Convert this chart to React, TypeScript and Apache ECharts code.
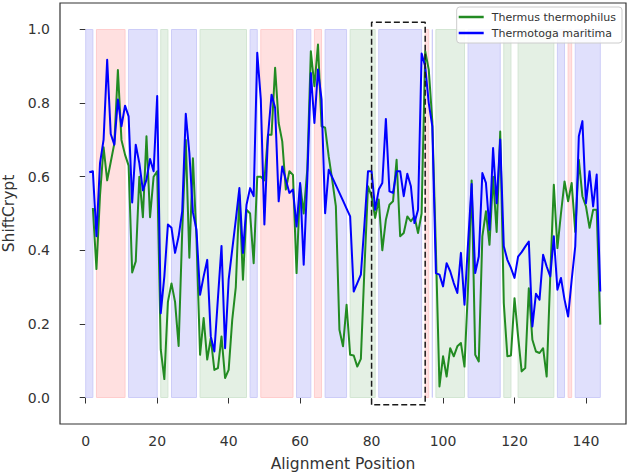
import React, { useEffect, useRef } from "react";
import * as echarts from "echarts";

// Alignment positions 0..144
const positions: number[] = Array.from({ length: 145 }, (_, i) => i);

const thermusValues: (number | null)[] = [
  null, null, 0.515, 0.349, 0.55, 0.68, 0.59, 0.64, 0.69, 0.89,
  0.70, 0.66, 0.63, 0.34, 0.37, 0.60, 0.49, 0.71, 0.49, 0.60,
  0.615, 0.13, 0.05, 0.26, 0.31, 0.26, 0.14, 0.45, 0.70, 0.38,
  0.65, 0.43, 0.116, 0.216, 0.103, 0.161, 0.075, 0.080, 0.166, 0.053,
  0.075, 0.211, 0.30, 0.55, 0.32, 0.51, 0.50, 0.365, 0.60, 0.60,
  0.59, 0.714, 0.714, 0.896, 0.746, 0.696, 0.565, 0.615, 0.605, 0.338,
  0.58, 0.50, 0.62, 0.941, 0.846, 0.959, 0.737, 0.733, 0.655, 0.59,
  0.52, 0.184, 0.139, 0.252, 0.116, 0.114, 0.084, 0.105, 0.35, 0.574,
  0.547, 0.488, 0.538, 0.40, 0.483, 0.524, 0.533, 0.646, 0.438, 0.447,
  0.492, 0.479, 0.492, 0.447, 0.50, 0.941, 0.891, 0.75, 0.40, 0.03,
  0.112, 0.057, 0.134, 0.112, 0.139, 0.148, 0.084, 0.30, 0.59, 0.116,
  0.098, 0.438, 0.506, 0.415, 0.60, 0.45, 0.723, 0.256, 0.112, 0.114,
  0.27, 0.166, 0.071, 0.080, 0.297, 0.157, 0.125, 0.121, 0.134, 0.057,
  0.33, 0.578, 0.406, 0.50, 0.587, 0.533, 0.583, 0.45, 0.646, 0.547,
  0.519, 0.461, 0.51, 0.51, 0.198,
];

const thermotogaValues: (number | null)[] = [
  null, 0.612, 0.615, 0.438, 0.637, 0.701, 0.918, 0.716, 0.687, 0.810,
  0.737, 0.793, 0.764, 0.530, 0.687, 0.637, 0.563, 0.592, 0.648, 0.615,
  0.819, 0.229, 0.329, 0.470, 0.461, 0.393, 0.438, 0.506, 0.771, 0.665,
  0.503, 0.456, 0.279, 0.329, 0.374, 0.166, 0.125, 0.27, 0.412, 0.134,
  0.320, 0.402, 0.483, 0.569, 0.393, 0.524, 0.569, 0.547, 0.937, 0.810,
  0.470, 0.710, 0.823, 0.787, 0.533, 0.628, 0.592, 0.556, 0.565, 0.465,
  0.583, 0.361, 0.592, 0.882, 0.746, 0.891, 0.810, 0.501, 0.619, 0.598,
  0.577, 0.556, 0.535, 0.513, 0.492, 0.288, 0.311, 0.334, 0.47, 0.615,
  0.615, 0.510, 0.565, 0.583, 0.757, 0.560, 0.556, 0.615, 0.615, 0.547,
  0.608, 0.574, 0.474, 0.510, 0.935, 0.900, 0.80, 0.737, 0.338, 0.334,
  0.302, 0.365, 0.343, 0.311, 0.284, 0.393, 0.252, 0.42, 0.58, 0.338,
  0.383, 0.610, 0.583, 0.456, 0.678, 0.528, 0.701, 0.411, 0.374, 0.352,
  0.325, 0.383, 0.395, 0.41, 0.424, 0.193, 0.282, 0.266, 0.388, 0.356,
  0.329, 0.438, 0.293, 0.325, 0.266, 0.220, 0.32, 0.411, 0.710, 0.751,
  0.528, 0.615, 0.519, 0.606, 0.288,
];

// Shaded regions: [start, end, kind] ; kind 0 = blue, 1 = red, 2 = green
const spanStarts: number[] = [0, 3, 12, 21, 24, 32, 46, 49, 59, 64, 67, 74, 82, 95, 97, 98, 107, 117, 121, 132, 135, 137];
const spanEnds: number[] = [2, 11, 20, 23, 31, 45, 48, 58, 63, 66, 73, 81, 94, 96, 97, 106, 116, 119, 131, 134, 136, 144];
const spanKinds: number[] = [0, 1, 0, 2, 0, 2, 0, 1, 0, 1, 0, 2, 0, 1, 0, 2, 0, 2, 2, 0, 1, 0];

// Dashed highlight box (data coordinates)
const boxX: number[] = [80, 80, 95, 95, 80];
const boxY: number[] = [-0.02, 1.02, 1.02, -0.02, -0.02];

const xTicks: number[] = [0, 20, 40, 60, 80, 100, 120, 140];
const yTicks: number[] = [0, 0.2, 0.4, 0.6, 0.8, 1.0];

const seriesNames = ["Thermus thermophilus", "Thermotoga maritima"];
const lineColors = ["#228B22", "#0000FF"];
const spanFill = ["#e0e0fc", "#ffe0e0", "#e4f0e4"];
const spanStroke = ["#cdcdf8", "#ffcdcd", "#d3e6d3"];

const FONT = "DejaVu Sans";
const TEXT = "#333333";

function toPairs(vals: (number | null)[]) {
  const out: number[][] = [];
  vals.forEach((v, i) => {
    if (v !== null) out.push([positions[i], v]);
  });
  return out;
}

export default function App() {
  const ref = useRef<HTMLDivElement>(null);
  useEffect(() => {
    if (!ref.current) return;
    const chart = echarts.init(ref.current, null, { renderer: "svg" });
    const spanData = spanStarts.map((s, i) => [s, spanEnds[i], 0, 1, spanKinds[i]]);
    const option: any = {
      animation: false,
      backgroundColor: "#ffffff",
      grid: {
        left: 60,
        right: 4,
        top: 3,
        bottom: 52,
        containLabel: false,
        outerBoundsMode: "none",
        show: true,
        borderColor: "#333333",
        borderWidth: 1.2,
        backgroundColor: "#ffffff",
      },
      legend: {
        data: seriesNames,
        orient: "vertical",
        right: 8,
        top: 7,
        icon: "rect",
        itemWidth: 25,
        itemHeight: 2.5,
        itemGap: 2,
        padding: [3, 6, 3, 2],
        backgroundColor: "rgba(255,255,255,0.85)",
        borderColor: "#cccccc",
        borderWidth: 1,
        borderRadius: 3,
        textStyle: {
          fontFamily: FONT,
          fontSize: 11,
          color: TEXT,
          lineHeight: 14,
          padding: [0, 0, 0, 3],
        },
      },
      xAxis: {
        type: "value",
        min: -7.2,
        max: 151.2,
        name: "Alignment Position",
        nameLocation: "middle",
        nameGap: 32,
        nameTextStyle: { fontFamily: FONT, fontSize: 15.5, color: TEXT },
        axisLine: { show: false },
        splitLine: { show: false },
        axisTick: {
          show: true,
          length: 6,
          inside: false,
          customValues: xTicks,
          lineStyle: { color: "#333333", width: 1 },
        },
        axisLabel: {
          customValues: xTicks,
          margin: 10,
          fontFamily: FONT,
          fontSize: 14,
          color: TEXT,
          formatter: (v: number) => String(Math.round(v)),
        },
      },
      yAxis: {
        type: "value",
        min: -0.072,
        max: 1.072,
        name: "ShiftCrypt",
        nameLocation: "middle",
        nameGap: 42,
        nameTextStyle: { fontFamily: FONT, fontSize: 15.5, color: TEXT },
        axisLine: { show: false },
        splitLine: { show: false },
        axisTick: {
          show: true,
          length: 6,
          customValues: yTicks,
          lineStyle: { color: "#333333", width: 1 },
        },
        axisLabel: {
          customValues: yTicks,
          margin: 10,
          fontFamily: FONT,
          fontSize: 14,
          color: TEXT,
          formatter: (v: number) => v.toFixed(1),
        },
      },
      series: [
        {
          type: "custom",
          name: "spans",
          z: 1,
          silent: true,
          encode: { x: [0, 1], y: [2, 3] },
          data: spanData,
          renderItem: (params: any, api: any) => {
            const s = api.value(0);
            const e = api.value(1);
            const k = api.value(4);
            const p0 = api.coord([s, 1]);
            const p1 = api.coord([e, 0]);
            return {
              type: "rect",
              shape: { x: p0[0], y: p0[1], width: p1[0] - p0[0], height: p1[1] - p0[1] },
              style: { fill: spanFill[k], stroke: spanStroke[k], lineWidth: 1 },
            };
          },
        },
        {
          type: "line",
          name: seriesNames[0],
          z: 3,
          data: toPairs(thermusValues),
          symbol: "none",
          itemStyle: { color: lineColors[0] },
          lineStyle: { color: lineColors[0], width: 2, join: "round" },
        },
        {
          type: "line",
          name: seriesNames[1],
          z: 4,
          data: toPairs(thermotogaValues),
          symbol: "none",
          itemStyle: { color: lineColors[1] },
          lineStyle: { color: lineColors[1], width: 2, join: "round" },
        },
        {
          type: "line",
          name: "box",
          z: 5,
          silent: true,
          data: boxX.map((x, i) => [x, boxY[i]]),
          symbol: "none",
          lineStyle: { color: "#1a1a1a", width: 1.5, type: [6, 3] },
        },
      ],
    };
    chart.setOption(option);
    return () => chart.dispose();
  }, []);
  return (
    <div
      ref={ref}
      style={{ position: "fixed", left: 0, top: 0, width: 630, height: 476 }}
    />
  );
}
